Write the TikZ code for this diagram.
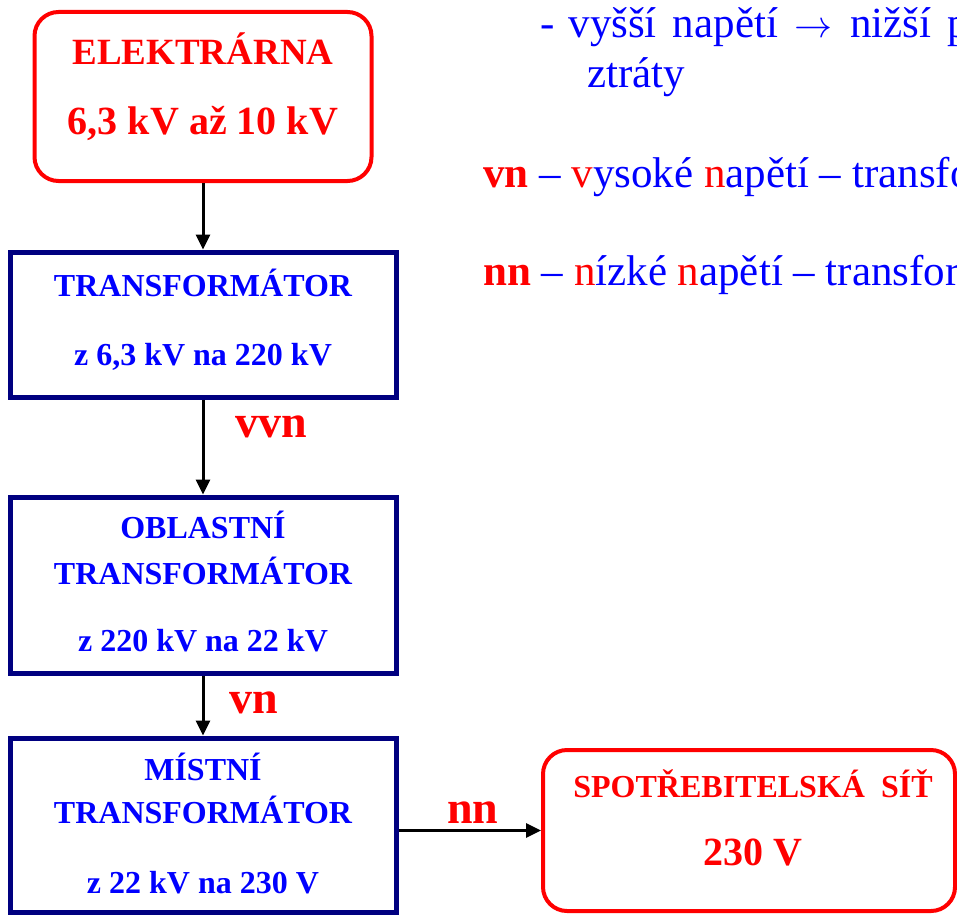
\documentclass[tikz,border=0pt]{standalone}
\usepackage{fontspec}
\setmainfont{Liberation Serif}
\usetikzlibrary{arrows.meta,positioning}
\definecolor{darknavy}{RGB}{0,0,128}
\definecolor{textblue}{RGB}{0,0,255}
\definecolor{textred}{RGB}{255,0,0}

\begin{document}
\begin{tikzpicture}[x=1pt, y=-1pt,
    redbox/.style={rectangle, draw=textred, line width=4pt, rounded corners=24pt, align=center, text=textred, inner sep=0pt},
    bluebox/.style={rectangle, draw=darknavy, line width=5pt, align=center, text=textblue, minimum width=386pt, inner sep=0pt, font=\fontsize{32}{43}\selectfont\bfseries},
    arrow/.style={-{Triangle[length=15pt,width=14pt]}, line width=3pt, black},
    volt/.style={anchor=base west, inner sep=0pt, text=textred, font=\fontsize{46}{46}\selectfont\bfseries},
    note/.style={anchor=base west, inner sep=0pt, text=textblue, font=\fontsize{43}{43}\selectfont}
]
    \useasboundingbox (0,0) rectangle (957,915);
    \clip (0,0) rectangle (957,915);

    % Power plant and transformer chain
    \node[redbox, minimum width=337pt, minimum height=169pt, text depth=26pt, font=\fontsize{37}{46}\selectfont\bfseries] (src) at (203,96.5) {ELEKTRÁRNA\\[24pt]{\fontsize{40}{46}\selectfont 6,3 kV až 10 kV}};
    \node[bluebox, minimum height=145pt, text depth=14pt] (t1) at (203,324.5) {TRANSFORMÁTOR\\[26pt]z 6,3 kV na 220 kV};
    \node[bluebox, minimum height=176pt, text depth=7.5pt] (t2) at (203,585) {OBLASTNÍ\\[3pt]TRANSFORMÁTOR\\[24pt]z 220 kV na 22 kV};
    \node[bluebox, minimum height=174pt, text depth=3.5pt] (t3) at (203,825) {MÍSTNÍ\\TRANSFORMÁTOR\\[27pt]z 22 kV na 230 V};
    \node[redbox, minimum width=412pt, minimum height=161pt, text depth=25pt, font=\fontsize{32}{44}\selectfont\bfseries] (net) at (749,830.5) {\hspace*{8pt}SPOTŘEBITELSKÁ~~SÍŤ\\[24pt]{\fontsize{40}{44}\selectfont\hspace*{8pt}230 V}};

    % Arrows
    \draw[arrow] (src) -- (t1);
    \draw[arrow] (t1) -- (t2);
    \draw[arrow] (t2) -- (t3);
    \draw[arrow] (t3.east |- net.west) -- (net.west);

    % Voltage levels
    \node[volt] (vvn) at (235,437) {vvn};
    \node[volt] (vn) at (229,713) {vn};
    \node[volt] (nn) at (447,823) {nn};

    % Notes
    \node[note] (gain) at (540,38) {-\hspace{14pt}vyšší\hspace{16pt}napětí\hspace{16pt}\resizebox{38pt}{!}{$\rightarrow$}\hspace{18pt}nižší\hspace{16pt}p};
    \node[note] (loss) at (587,88) {ztráty};
    \node[note] (hv) at (483,187) {\textcolor{textred}{\textbf{vn}} – \textcolor{textred}{v}ysoké \textcolor{textred}{n}apětí – transfo};
    \node[note] (lv) at (483,285) {\textcolor{textred}{\textbf{nn}} – \textcolor{textred}{n}ízké \textcolor{textred}{n}apětí – transfor};
\end{tikzpicture}
\end{document}
